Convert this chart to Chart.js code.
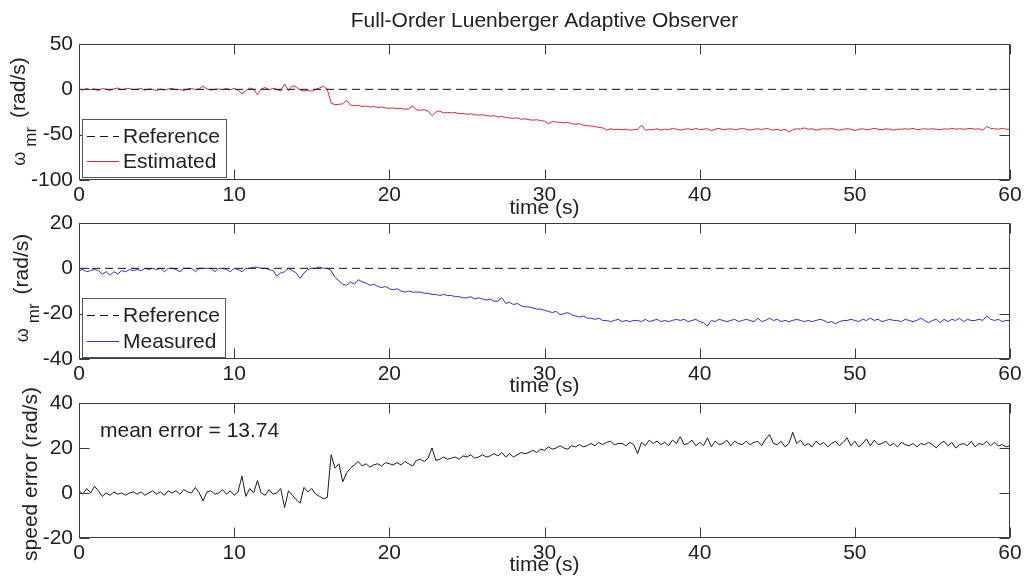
<!DOCTYPE html>
<html><head><meta charset="utf-8">
<script src="https://cdn.jsdelivr.net/npm/chart.js@4.4.1/dist/chart.umd.min.js"></script>
<style>
html,body{margin:0;padding:0;background:#fff;}
#wrap{position:relative;width:1031px;height:580px;overflow:hidden;background:#fff;}
canvas{position:absolute;left:0;top:0;}
</style></head><body>
<div id="wrap">
<canvas id="c1" width="1031" height="580"></canvas>
<canvas id="c2" width="1031" height="580"></canvas>
<canvas id="c3" width="1031" height="580"></canvas>
</div>
<script>
// ---- data (sampled every 0.25 s, t = 0 ... 60 s) ----
const dt = 0.25;
const estimated = [
 0.5,-1,1,-0.5,      // 0
 0.5,-1.5,1,0,       // 1
 -1,0.5,1.5,-0.5,    // 2
 0.5,1,-0.5,0,       // 3
 1,-1,0.5,0,         // 4
 -1.5,0.5,-1,0.5,    // 5
 1,-0.5,0,-1.5,      // 6
 0.5,1,-0.5,0.5,     // 7
 3.5,0.5,-1,0,       // 8
 0.5,-0.5,1,-0.5,    // 9
 1,-1,-5,-1.5,       // 10
 1.5,0,-6,0.5,       // 11
 2,-0.5,1,0,         // 12
 -2,6,-1.5,4,        // 13
 2.5,-0.5,-2,-1,     // 14
 -2,0,1.5,3.5,       // 15
 0,-15,-17,-16.5,    // 16
 -16,-12,-17.5,-18,  // 17
 -17.5,-19,-18.5,-19.5, // 18
 -19,-20,-19.5,-20.5,   // 19
 -21,-20.5,-21.5,-21,   // 20
 -22,-21.5,-18.5,-22.5, // 21
 -23,-22.5,-24,-29,     // 22
 -25,-24,-26,-25.5,     // 23
 -26,-25.5,-27,-26.5,   // 24
 -27.5,-27,-28,-28.5,   // 25
 -28,-29,-29.5,-29,     // 26
 -30.5,-30,-31,-31.5,   // 27
 -32,-31.5,-33,-32.5,   // 28
 -33.5,-34,-33.5,-34.5, // 29
 -35,-38,-35.5,-36,     // 30
 -36.5,-37,-36.5,-38,   // 31
 -38.5,-38,-39.5,-40,   // 32
 -40.5,-41,-42,-42.5,   // 33
 -45,-43.5,-44.5,-44,   // 34
 -44.5,-44,-45,-44.5,   // 35
 -44,-39.5,-45,-44.5,   // 36
 -44.5,-43.5,-45,-44,   // 37
 -44.5,-43,-44,-45,     // 38
 -44,-43.5,-44.5,-43,   // 39
 -44.5,-44,-43.5,-45.5, // 40
 -44,-43,-44.5,-44,     // 41
 -43.5,-44.5,-44,-43,   // 42
 -44,-45,-44,-43.5,     // 43
 -44.5,-43,-44,-45,     // 44
 -44,-45.5,-44,-47,     // 45
 -44.5,-43.5,-44,-42.5, // 46
 -44,-43.5,-45,-44,     // 47
 -43.5,-44,-43,-44.5,   // 48
 -45,-44,-43.5,-44,     // 49
 -45.5,-44,-43.5,-44.5, // 50
 -44,-43,-44,-44.5,     // 51
 -43.5,-44,-45,-44,     // 52
 -44,-43.5,-44,-43,     // 53
 -44.5,-44,-43.5,-44,   // 54
 -43.5,-44,-44.5,-43.5, // 55
 -44,-43,-44,-43.5,     // 56
 -44,-43.5,-43,-44,     // 57
 -43.5,-45,-41,-43,     // 58
 -43.5,-44,-43,-44,     // 59
 -44                    // 60
];
const measured = [
 -1,-0.5,-1.5,-1,       // 0
 -0.5,-1,-2.5,-1.5,     // 1
 -3,-1.5,-2.5,-1,       // 2
 -1.5,-0.5,-1,-0.5,     // 3
 -1,0,-0.5,0,           // 4
 -0.5,0,-1.5,0,         // 5
 0,-0.5,-1.5,0,         // 6
 0,0,-1.5,0,            // 7
 0,0,0,-1.5,            // 8
 0,0,-0.5,-1.5,         // 9
 0,-0.5,-1.5,0,         // 10
 0,0.5,0.5,0,           // 11
 0,-0.5,-1,-3.5,        // 12
 -2,-1.5,0,-1,          // 13
 -2,-4.5,-2,-0.5,       // 14
 0,0,0.5,0,             // 15
 0,-1,-4,-5.5,          // 16
 -7,-7.5,-6,-7,         // 17
 -5,-6,-6.5,-7.5,       // 18
 -7,-8,-8.5,-8,         // 19
 -9,-9.5,-9,-10,        // 20
 -10.5,-10,-10.5,-10.5, // 21
 -10.5,-11,-11,-11.5,   // 22
 -11.5,-12,-11.5,-12,   // 23
 -12,-12.5,-12.5,-13,   // 24
 -13,-12.5,-13.5,-13,   // 25
 -13.5,-14,-13.5,-14.5, // 26
 -14.5,-13,-15.5,-15,   // 27
 -16,-15.5,-16.5,-17,   // 28
 -17,-17.5,-18,-18,     // 29
 -18.5,-19,-19.5,-19,   // 30
 -20.5,-20,-19.5,-20.5, // 31
 -21,-21.5,-21,-22,     // 32
 -22,-22.5,-22,-23,     // 33
 -23,-23.5,-23,-22.5,   // 34
 -23.5,-23,-23.5,-23,   // 35
 -23,-23.5,-22.5,-23.5, // 36
 -23,-22.5,-23.5,-23,   // 37
 -23.5,-23,-22.5,-23,   // 38
 -22.5,-23.5,-23,-22.5, // 39
 -23.5,-24,-25.5,-23,   // 40
 -23.5,-22.5,-23,-23.5, // 41
 -23,-22.5,-23.5,-23,   // 42
 -22.5,-23,-23.5,-22,   // 43
 -23.5,-23,-22,-23,     // 44
 -22.5,-23.5,-23,-23.5, // 45
 -23,-22.5,-23,-23.5,   // 46
 -23,-23.5,-23,-22.5,   // 47
 -23,-24,-23.5,-24.5,   // 48
 -23.5,-23,-23,-22.5,   // 49
 -23,-23.5,-22.5,-23,   // 50
 -22,-23,-22.5,-23.5,   // 51
 -23,-22.5,-23,-23,     // 52
 -23.5,-22.5,-23,-23.5, // 53
 -23,-22,-23,-24,       // 54
 -23,-22.5,-24,-22.5,   // 55
 -23.5,-22.5,-23,-22,   // 56
 -23.5,-22.5,-23,-23,   // 57
 -22.5,-23,-21,-22.5,   // 58
 -23,-22.5,-23.5,-23,   // 59
 -23                    // 60
];
const speedError = [
 1,-0.5,2,0,            // 0
 3,1,-1.5,0,            // 1
 -1,0.5,-0.5,0,         // 2
 -1,0,0.5,-0.5,         // 3
 0.5,-1,0,1,            // 4
 -0.5,0.5,-1,1,         // 5
 0,1,-0.5,1.5,          // 6
 0.5,0,2.5,0,           // 7
 -3.5,0.5,1,-0.5,       // 8
 0,1.5,-0.5,1,          // 9
 -1,0.5,7.5,-1.5,       // 10
 2,0,5.5,0,             // 11
 -1,1.5,-0.5,0,         // 12
 2,-6.5,1,-1,           // 13
 -3,-4.5,2.5,0.5,       // 14
 2,-0.5,-1.5,-2.5,      // 15
 -2,17,11,13,           // 16
 5,9,11,12.5,           // 17
 14,12,13,11.5,         // 18
 12.5,13,12,13.5,       // 19
 13,12.5,13.5,12.5,     // 20
 14,13,12,14.5,         // 21
 15,14,15.5,20,         // 22
 14.5,15,16,15,         // 23
 15.5,16,15,16.5,       // 24
 16,17,15.5,16,         // 25
 17,16,16.5,17.5,       // 26
 16.5,18,16,17.5,       // 27
 16,17,18,17.5,         // 28
 18,19,18,19.5,         // 29
 19,20.5,19.5,20,       // 30
 21,20,19.5,21,         // 31
 20.5,21.5,20.5,21,     // 32
 22,21,22.5,21.5,       // 33
 22.5,23,21.5,22,       // 34
 22,21,22.5,21.5,       // 35
 17.5,22.5,21,23.5,     // 36
 22,23,21.5,22.5,       // 37
 21,23.5,22,25,         // 38
 21.5,22,23.5,21,       // 39
 22.5,21,24.5,20.5,     // 40
 23,21.5,22,23.5,       // 41
 21,23,22,21.5,         // 42
 23,21.5,22.5,23,       // 43
 21,24,26,22,           // 44
 21.5,23,20.5,22,       // 45
 27,22,23.5,21,         // 46
 22,20.5,23,21.5,       // 47
 22.5,20.5,22,23,       // 48
 21,22.5,24.5,21,       // 49
 23,20.5,22,24,         // 50
 21,23.5,21.5,22,       // 51
 23,21,22,20.5,         // 52
 22.5,21.5,21,22,       // 53
 20.5,22,21.5,22.5,     // 54
 21.5,20,22,23,         // 55
 21,22.5,20,21.5,       // 56
 22,21,23,20.5,         // 57
 22,21.5,23,21,         // 58
 22.5,21,21.5,20.5,     // 59
 21                     // 60
];
const referenceTime = [0, 60];
const referenceValue = [0, 0];
const xTickValues = [0, 10, 20, 30, 40, 50, 60];
const yTicksTop = [-100, -50, 0, 50];
const yTicksMid = [-40, -20, 0, 20];
const yTicksBottom = [-20, 0, 20, 40];
const meanErrorText = 'mean error = 13.74';

// ---- styling ----
const FONT = '"Liberation Sans", Arial, Helvetica, sans-serif';
const TXT = '#222';
const FRAME = '#3c3c3c';
Chart.defaults.font.family = FONT;
Chart.defaults.color = TXT;

const series = arr => arr.map((v, i) => ({x: i * dt, y: v}));
const refSeries = () => referenceTime.map((t, i) => ({x: t, y: referenceValue[i]}));

const matlabAxes = {
  id: 'matlabAxes',
  afterDatasetsDraw(chart, args, opts) {
    const {ctx, chartArea: a} = chart;
    const x = chart.scales.x, y = chart.scales.y;
    ctx.save();
    // frame
    ctx.strokeStyle = FRAME; ctx.lineWidth = 1; ctx.setLineDash([]);
    const L = Math.round(a.left) + 0.5, T = Math.round(a.top) + 0.5;
    const R = Math.round(a.right) - 0.5, B = Math.round(a.bottom) - 0.5;
    ctx.strokeRect(L, T, R - L, B - T);
    // inward ticks on all four sides
    ctx.beginPath();
    x.ticks.forEach(t => {
      const p = Math.round(x.getPixelForValue(t.value)) + 0.5;
      ctx.moveTo(p, T); ctx.lineTo(p, T + 10);
      ctx.moveTo(p, B); ctx.lineTo(p, B - 10);
    });
    y.ticks.forEach(t => {
      const p = Math.round(y.getPixelForValue(t.value)) + 0.5;
      ctx.moveTo(L, p); ctx.lineTo(L + 10, p);
      ctx.moveTo(R, p); ctx.lineTo(R - 10, p);
    });
    ctx.stroke();
    // legend (drawn from the datasets' own labels and resolved styles)
    if (opts.legend) {
      const lg = opts.legend;
      ctx.fillStyle = '#fff';
      ctx.fillRect(lg.x, lg.y, lg.w, lg.h);
      ctx.strokeStyle = '#555';
      ctx.lineWidth = 1;
      ctx.strokeRect(lg.x + 0.5, lg.y + 0.5, lg.w, lg.h);
      chart.data.datasets.forEach((ds, i) => {
        const lo = chart.getDatasetMeta(i).dataset.options;
        const cy = Math.round(lg.y + lg.first + i * lg.step) + 0.5;
        ctx.beginPath();
        ctx.strokeStyle = lo.borderColor;
        ctx.lineWidth = 1;
        ctx.setLineDash(lo.borderDash || []);
        ctx.moveTo(lg.x + 5, cy); ctx.lineTo(lg.x + 37, cy);
        ctx.stroke();
        ctx.setLineDash([]);
        ctx.fillStyle = TXT;
        ctx.font = '21px ' + FONT;
        ctx.textAlign = 'left'; ctx.textBaseline = 'middle';
        ctx.fillText(ds.label, lg.x + 41, cy + 1);
      });
    }
    // in-plot note
    if (opts.note) {
      ctx.fillStyle = TXT;
      ctx.font = '21px ' + FONT;
      ctx.textAlign = 'left'; ctx.textBaseline = 'middle';
      ctx.fillText(opts.note.text, opts.note.x, opts.note.y);
    }
    // rotated y-axis title, with optional subscript pieces
    if (opts.yTitle) {
      const yt = opts.yTitle;
      ctx.fillStyle = TXT;
      ctx.textAlign = 'left'; ctx.textBaseline = 'alphabetic';
      let total = 0;
      yt.parts.forEach(p => { ctx.font = p.size + 'px ' + FONT; p.w = ctx.measureText(p.text).width; total += (p.gap || 0) + p.w; });
      ctx.translate(yt.x, yt.cy);
      ctx.rotate(-Math.PI / 2);
      let cx = -total / 2;
      yt.parts.forEach(p => {
        cx += (p.gap || 0);
        ctx.font = p.size + 'px ' + FONT;
        ctx.fillText(p.text, cx, p.dy || 0);
        cx += p.w;
      });
    }
    ctx.restore();
  }
};

function makeChart(id, cfg) {
  return new Chart(document.getElementById(id), {
    type: 'line',
    data: {datasets: cfg.datasets},
    options: {
      responsive: false, animation: false, devicePixelRatio: 1, events: [],
      layout: {padding: {left: 0, right: 21, top: cfg.padTop, bottom: cfg.padBottom}},
      elements: {point: {radius: 0}, line: {borderWidth: 1, tension: 0}},
      plugins: {
        legend: {display: false}, tooltip: {enabled: false},
        title: cfg.title || {display: false},
        matlabAxes: cfg.extra
      },
      scales: {
        x: {
          type: 'linear', min: 0, max: 60,
          afterBuildTicks: s => { s.ticks = xTickValues.map(v => ({value: v})); },
          grid: {display: false, drawTicks: false}, border: {display: false},
          ticks: {font: {size: 21}, color: TXT, padding: 2.4, maxRotation: 0, autoSkip: false},
          title: {display: true, text: 'time (s)', font: {size: 21}, color: TXT, padding: {top: 0, bottom: cfg.timePad}},
          afterFit: s => { s.height = 42; }
        },
        y: {
          type: 'linear', min: cfg.ymin, max: cfg.ymax,
          afterBuildTicks: s => { s.ticks = cfg.yTicks.map(v => ({value: v})); },
          grid: {display: false, drawTicks: false}, border: {display: false},
          ticks: {font: {size: 21}, color: TXT, padding: 6, autoSkip: false},
          afterFit: s => { s.width = 79; }
        }
      }
    },
    plugins: [matlabAxes]
  });
}

const refStyle = {borderColor: '#111', borderDash: [8, 5], borderWidth: 1};

makeChart('c1', {
  padTop: 0, padBottom: 358, timePad: 1.4, ymin: -100, ymax: 50, yTicks: yTicksTop,
  title: {display: true, text: 'Full-Order Luenberger Adaptive Observer', fullSize: false,
          font: {size: 21, weight: 'normal'}, color: TXT, padding: {top: 8.5, bottom: 10.3}},
  datasets: [
    Object.assign({label: 'Reference', data: refSeries()}, refStyle),
    {label: 'Estimated', data: series(estimated), borderColor: '#e3262f', borderWidth: 1}
  ],
  extra: {
    legend: {x: 82, y: 119, w: 144, h: 58, first: 17, step: 25},
    yTitle: {x: 25, cy: 111.5, parts: [
      {text: 'ω', size: 18}, {text: 'mr', size: 17, dy: 11, gap: 5}, {text: '(rad/s)', size: 21, gap: 9}]}
  }
});

makeChart('c2', {
  padTop: 223, padBottom: 179, timePad: 2.4, ymin: -40, ymax: 20, yTicks: yTicksMid,
  datasets: [
    Object.assign({label: 'Reference', data: refSeries()}, refStyle),
    {label: 'Measured', data: series(measured), borderColor: '#2f2fe0', borderWidth: 1}
  ],
  extra: {
    legend: {x: 82, y: 298, w: 143, h: 59, first: 17, step: 26},
    yTitle: {x: 28, cy: 288, parts: [
      {text: 'ω', size: 18}, {text: 'mr', size: 17, dy: 11, gap: 5}, {text: '(rad/s)', size: 21, gap: 9}]}
  }
});

makeChart('c3', {
  padTop: 403, padBottom: 0, timePad: 2.4, ymin: -20, ymax: 40, yTicks: yTicksBottom,
  datasets: [
    {label: 'speed error', data: series(speedError), borderColor: '#1a1a1a', borderWidth: 1}
  ],
  extra: {
    note: {text: meanErrorText, x: 100, y: 431},
    yTitle: {x: 37, cy: 474, parts: [{text: 'speed error (rad/s)', size: 21}]}
  }
});
</script>
</body></html>
